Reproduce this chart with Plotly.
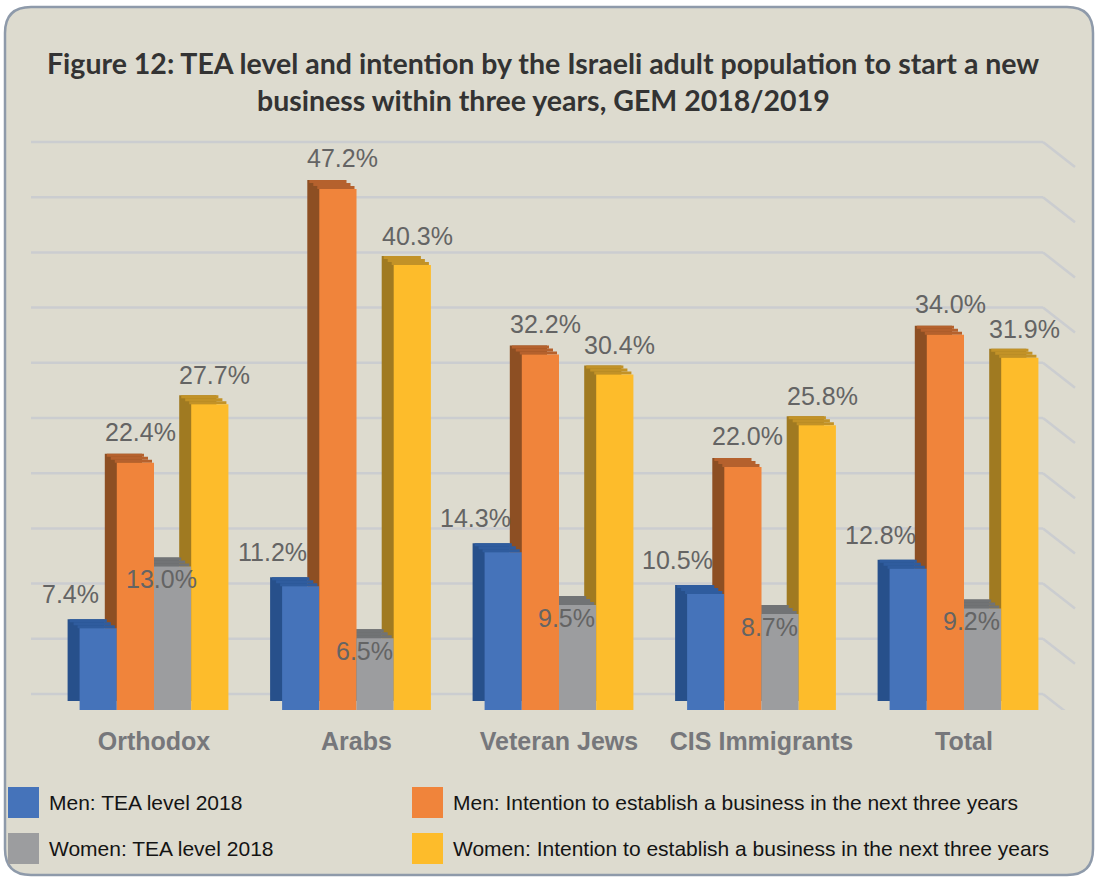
import plotly.graph_objects as go

# ---------------- data ----------------
categories = ["Orthodox", "Arabs", "Veteran Jews", "CIS Immigrants", "Total"]
men_tea = [7.4, 11.2, 14.3, 10.5, 12.8]
men_intention = [22.4, 47.2, 32.2, 22.0, 34.0]
women_tea = [13.0, 6.5, 9.5, 8.7, 9.2]
women_intention = [27.7, 40.3, 30.4, 25.8, 31.9]
series_names = [
    "Men: TEA level 2018",
    "Men: Intention to establish a business in the next three years",
    "Women: TEA level 2018",
    "Women: Intention to establish a business in the next three years",
]
grid_values = [0, 5, 10, 15, 20, 25, 30, 35, 40, 45, 50]
title_lines = [
    "Figure 12: TEA level and intention by the Israeli adult population to start a new",
    "business within three years, GEM 2018/2019",
]

# ---------------- geometry / style ----------------
W, H = 1096, 878
CAT_PX = 202.5          # pixels per category
BAR_PX = 37.2           # front face width in px
PX_PER_PCT = 11.04      # vertical scale
BOTTOM_PX = 710         # pixel row of 0% for bar fronts
TOP_PX = 120
DEPTH_X = 12            # 3D depth shift (px, to the left)
DEPTH_Y = 9             # 3D depth shift (px, upwards)
WALL_DROP = 16          # back wall 0-line sits 16px above the bar fronts
TOP_STRIPS = 3          # staircase approximation of the top face

def X(px):
    return px / W

def Y(py):
    return 1 - py / H

ymax = (BOTTOM_PX - TOP_PX) / PX_PER_PCT
bw = BAR_PX / CAT_PX
depth_pct = DEPTH_Y / PX_PER_PCT

series = [
    dict(vals=men_tea, name=series_names[0], k=-2, front="#4573BA", side="#27508B", top="#2F5C9E", lx=-28, ly=34),
    dict(vals=men_intention, name=series_names[1], k=-1, front="#F0843B", side="#8D4F23", top="#B5612D", lx=5, ly=31),
    dict(vals=women_tea, name=series_names[2], k=0, front="#9C9D9F", side="#6B6C6E", top="#717375", lx=-11, ly=-13),
    dict(vals=women_intention, name=series_names[3], k=1, front="#FDBC2B", side="#A07A21", top="#C29227", lx=5, ly=29),
]

fig = go.Figure()

# side faces (drawn first, furthest back)
for s in series:
    fig.add_trace(go.Bar(
        x=categories, y=s["vals"], base=depth_pct,
        offset=s["k"] * bw - DEPTH_X / CAT_PX, width=bw,
        marker=dict(color=s["side"], line=dict(width=0)),
        showlegend=False, hoverinfo="skip",
    ))
# top faces: thin strips stepping back in depth
strip_pct = depth_pct / TOP_STRIPS
for j in range(TOP_STRIPS):
    frac = (j + 0.5) / TOP_STRIPS
    for s in series:
        fig.add_trace(go.Bar(
            x=categories, y=[strip_pct] * len(categories),
            base=[v + j * strip_pct for v in s["vals"]],
            offset=s["k"] * bw - DEPTH_X * frac / CAT_PX, width=bw,
            marker=dict(color=s["top"], line=dict(width=0)),
            showlegend=False, hoverinfo="skip",
        ))
# front faces
for s in series:
    fig.add_trace(go.Bar(
        x=categories, y=s["vals"], name=s["name"],
        offset=s["k"] * bw, width=bw,
        marker=dict(color=s["front"], line=dict(width=0)),
        showlegend=False,
    ))

shapes = []
# rounded background panel
x0, x1, y0, y1, r = 5, 1093, 7, 875, 26
path = (
    f"M {X(x0 + r)},{Y(y0)} L {X(x1 - r)},{Y(y0)} Q {X(x1)},{Y(y0)} {X(x1)},{Y(y0 + r)} "
    f"L {X(x1)},{Y(y1 - r)} Q {X(x1)},{Y(y1)} {X(x1 - r)},{Y(y1)} "
    f"L {X(x0 + r)},{Y(y1)} Q {X(x0)},{Y(y1)} {X(x0)},{Y(y1 - r)} "
    f"L {X(x0)},{Y(y0 + r)} Q {X(x0)},{Y(y0)} {X(x0 + r)},{Y(y0)} Z"
)
shapes.append(dict(type="path", path=path, xref="paper", yref="paper",
                   fillcolor="#DDDBCF", line=dict(color="#8E9AAA", width=2.5), layer="below"))

# back wall gridlines + perspective side lines
for v in grid_values:
    shapes.append(dict(type="line", xref="paper", yref="y2", x0=X(31), x1=X(1043), y0=v, y1=v,
                       line=dict(color="#CBCDD0", width=2.5), layer="below"))
    shapes.append(dict(type="line", xref="paper", yref="y2",
                       xsizemode="pixel", xanchor=X(1043), x0=0, x1=32,
                       ysizemode="pixel", yanchor=v, y0=0, y1=-25,
                       line=dict(color="#CBCDD0", width=2.5), layer="below"))

annotations = []
# title
for line, cy in zip(title_lines, [63, 100]):
    annotations.append(dict(text=line, x=X(543), y=Y(cy), xref="paper", yref="paper",
                            xanchor="center", yanchor="middle", showarrow=False,
                            font=dict(family="Lato", size=28.5, color="#333333", weight="bold")))

# data labels
for s in series:
    for c, v in zip(categories, s["vals"]):
        annotations.append(dict(
            x=c, y=v, xref="x", yref="y", text=f"{v:.1f}%", showarrow=False,
            xanchor="center", yanchor="middle",
            xshift=(s["k"] + 0.5) * BAR_PX + s["lx"], yshift=s["ly"],
            font=dict(family="Liberation Sans", size=25, color="#646464"),
        ))

# custom legend
legend_pos = [(8, 787), (412, 787), (8, 833), (412, 833)]
for s, (lx, ly) in zip(series, legend_pos):
    shapes.append(dict(type="rect", xref="paper", yref="paper",
                       x0=X(lx), x1=X(lx + 31), y0=Y(ly), y1=Y(ly + 31),
                       fillcolor=s["front"], line=dict(width=0)))
    annotations.append(dict(text=s["name"], x=X(lx + 39), y=Y(ly + 15.5), xref="paper", yref="paper",
                            xanchor="left", yanchor="middle", showarrow=False,
                            font=dict(family="Liberation Sans", size=21, color="#141414")))

fig.update_layout(
    width=W, height=H, autosize=False,
    margin=dict(l=0, r=0, t=0, b=0),
    paper_bgcolor="white", plot_bgcolor="rgba(0,0,0,0)",
    barmode="overlay",
    showlegend=False,
    xaxis=dict(domain=[X(154 - CAT_PX / 2), X(154 + 4.5 * CAT_PX)], range=[-0.5, 4.5],
               showgrid=False, zeroline=False, showline=False, ticks="",
               tickfont=dict(family="Liberation Sans", size=25, color="#76777B", weight="bold"),
               ticklabelstandoff=14),
    yaxis=dict(domain=[Y(BOTTOM_PX), Y(TOP_PX)], range=[0, ymax], visible=False, fixedrange=True),
    yaxis2=dict(overlaying="y", range=[-WALL_DROP / PX_PER_PCT, -WALL_DROP / PX_PER_PCT + ymax],
                visible=False),
    shapes=shapes,
    annotations=annotations,
)

fig.write_html("out.html", config={"displayModeBar": False},
               post_script="document.body.style.margin='0px';")
